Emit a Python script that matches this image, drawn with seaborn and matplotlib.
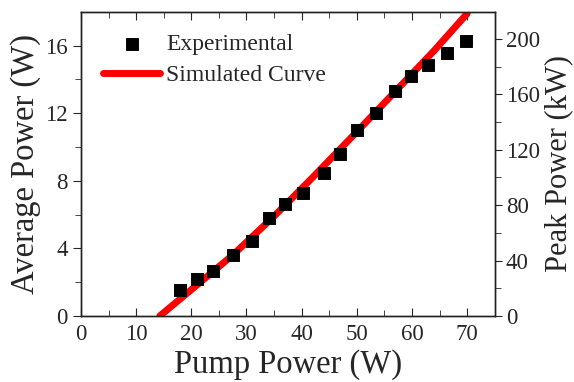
import numpy as np
import pandas as pd
import seaborn as sns
import matplotlib.pyplot as plt

# measured points
pump_exp = [18.0, 21.0, 23.9, 27.5, 31.0, 34.0, 36.9, 40.3, 44.0, 46.9,
            50.0, 53.4, 56.9, 59.9, 62.9, 66.4, 69.8]
avg_exp = [1.54, 2.17, 2.67, 3.61, 4.44, 5.77, 6.64, 7.27, 8.45, 9.58,
           11.02, 12.01, 13.33, 14.18, 14.83, 15.56, 16.26]

# simulated curve
pump_sim = [14.3, 20.0, 27.5, 35.0, 42.0, 50.0, 57.0, 64.0, 70.0]
avg_sim = [0.0, 1.55, 3.6, 5.9, 8.2, 10.9, 13.3, 15.7, 17.9]

x_ticks = [0, 10, 20, 30, 40, 50, 60, 70]
y_ticks = [0, 4, 8, 12, 16]
peak_ticks = [0, 40, 80, 120, 160, 200]

df_exp = pd.DataFrame({'pump': pump_exp, 'avg': avg_exp})
df_sim = pd.DataFrame({'pump': pump_sim, 'avg': avg_sim})

sns.set_style("ticks")
plt.rcParams['font.family'] = ['Liberation Serif', 'DejaVu Serif']
plt.rcParams['axes.edgecolor'] = '#222222'
plt.rcParams['axes.linewidth'] = 1.0

fig = plt.figure(figsize=(5.74, 3.82), dpi=100)
ax = fig.add_axes([0.141, 0.173, 0.721, 0.796])

sns.lineplot(data=df_sim, x='pump', y='avg', ax=ax, color='#ff0000',
             linewidth=5, label='Simulated Curve', zorder=2)
sns.scatterplot(data=df_exp, x='pump', y='avg', ax=ax, marker='s', s=70,
                color='black', edgecolor='black', label='Experimental', zorder=3)

ax.set_xlim(0, 75)
ax.set_ylim(0, 18)
ax.set_xticks(x_ticks)
ax.set_xticks(np.arange(5, 75, 10), minor=True)
ax.set_yticks(y_ticks)
ax.set_yticks([2, 6, 10, 14], minor=True)
ax.tick_params(axis='x', which='both', direction='in', top=True, labelsize=16.5, pad=6)
ax.tick_params(axis='x', which='major', length=6)
ax.tick_params(axis='x', which='minor', length=4)
ax.tick_params(axis='y', which='both', direction='out', labelsize=16.5)
ax.tick_params(axis='y', which='major', length=6)
ax.tick_params(axis='y', which='minor', length=4)
ax.set_xlabel('Pump Power (W)', fontsize=23.5, labelpad=3)
ax.set_ylabel('Average Power (W)', fontsize=23.5, labelpad=3)

ax2 = ax.twinx()
ax2.set_ylim(0, 18 * 200 / 16.4)
ax2.set_yticks(peak_ticks)
ax2.set_yticks([20, 60, 100, 140, 180], minor=True)
ax2.tick_params(axis='y', which='both', direction='out', labelsize=16.5, pad=3)
ax2.tick_params(axis='y', which='major', length=5)
ax2.tick_params(axis='y', which='minor', length=4)
ax2.set_ylabel('Peak Power (kW)', fontsize=22)
ax2.yaxis.set_label_coords(1.12, 0.5)

handles, labels = ax.get_legend_handles_labels()
order = [labels.index('Experimental'), labels.index('Simulated Curve')]
ax.legend([handles[i] for i in order], [labels[i] for i in order],
          loc='upper left', bbox_to_anchor=(0.02, 0.975), frameon=False,
          fontsize=17, handlelength=2.4, handletextpad=0.25, labelspacing=0.4,
          borderaxespad=0.2)

fig.savefig('out.png', dpi=100)
